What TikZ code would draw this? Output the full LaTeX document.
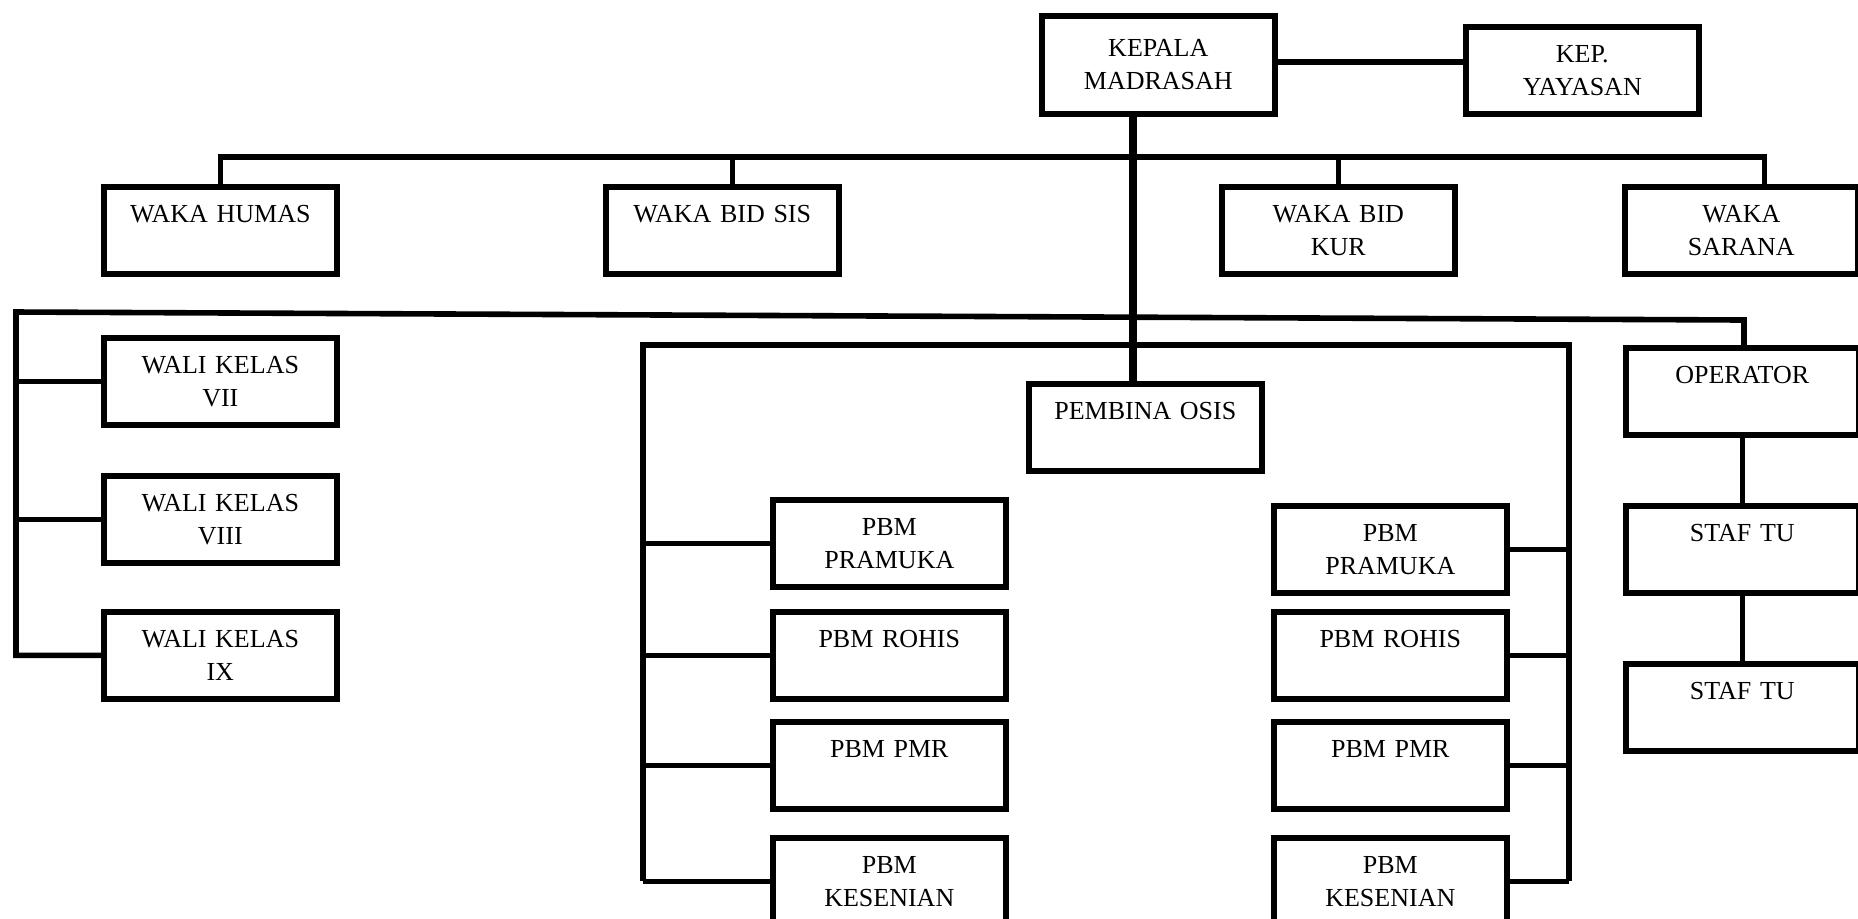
\documentclass[tikz,border=0pt]{standalone}
\usepackage{fontspec}
\setmainfont{Liberation Serif}
\usepackage{tikz}

\begin{document}
\begin{tikzpicture}[x=0.5pt, y=-0.5pt, line width=2.8pt,
  unit/.style={draw, anchor=north west, minimum width=116.5pt,
               minimum height=43.5pt, text width=110pt, align=center,
               inner sep=0pt, font=\fontsize{13}{16.5}\selectfont},
  trunk/.style={line width=4pt}]

  \useasboundingbox (0,0) rectangle (1858,918);

  % -- the head and the foundation ------------------------------------------
  \node[unit, minimum height=49pt] (kepala) at (1039,13) {KEPALA\\MADRASAH};
  \node[unit] (yayasan) at (1463,24) {KEP.\\YAYASAN};
  \draw ([yshift=1.5pt]kepala.east) -- ([yshift=1.5pt]kepala.east -| yayasan.west);

  % -- the four deputies hang from one bar -----------------------------------
  \node[unit] (humas)  at (101,184)  {WAKA HUMAS\\~};
  \node[unit] (bidsis) at (603,184)  {WAKA BID SIS\\~};
  \node[unit] (bidkur) at (1219,184) {WAKA BID\\KUR};
  \node[unit] (sarana) at (1622,184) {WAKA\\SARANA};
  \coordinate (bus) at (0,157);
  \draw (humas.north) -- (humas.north |- bus) -| ([xshift=11.5pt]sarana.north);
  \draw ([xshift=5pt]bidsis.north) -- ([xshift=5pt]bidsis.north |- bus);
  \draw (bidkur.north) -- (bidkur.north |- bus);

  % -- class teachers on the left, office on the right ------------------------
  \node[unit] (wali7) at (101,335) {WALI KELAS\\VII};
  \node[unit] (wali8) at (101,473) {WALI KELAS\\VIII};
  \node[unit] (wali9) at (101,609) {WALI KELAS\\IX};
  \node[unit] (op)    at (1623,345) {OPERATOR\\~};
  \node[unit] (staf1) at (1623,503) {STAF TU\\~};
  \node[unit] (staf2) at (1623,661) {STAF TU\\~};
  \coordinate (lw) at (16,312);
  \coordinate (le) at (1744,320);
  \draw (wali9.west) -| (lw) -- (le) -- (le |- op.north);
  \foreach \w in {wali7, wali8}{
    \draw (\w.west) -- (\w.west -| lw);}
  \draw (op.south) -- (staf1.north);
  \draw (staf1.south) -- (staf2.north);

  % -- OSIS and the two rows of extracurricular leaders ----------------------
  \node[unit] (pembina) at (1026,381) {PEMBINA OSIS\\~};
  \node[unit] (pramL) at (770,497)  {PBM\\PRAMUKA};
  \node[unit] (rohisL) at (770,609) {PBM ROHIS\\~};
  \node[unit] (pmrL) at (770,719)   {PBM PMR\\~};
  \node[unit] (kesL) at (770,835)   {PBM\\KESENIAN};
  \node[unit] (pramR) at (1271,503) {PBM\\PRAMUKA};
  \node[unit] (rohisR) at (1271,609) {PBM ROHIS\\~};
  \node[unit] (pmrR) at (1271,719)  {PBM PMR\\~};
  \node[unit] (kesR) at (1271,835)  {PBM\\KESENIAN};
  \coordinate (pw) at (643,345);
  \coordinate (pe) at (1569,345);
  \draw (kesL.west -| pw) -- (pw) -- (pe) -- (pe |- kesR.east);
  \foreach \p in {pramL, rohisL, pmrL, kesL}{
    \draw (\p.west) -- (\p.west -| pw);}
  \foreach \p in {pramR, rohisR, pmrR, kesR}{
    \draw (\p.east) -- (\p.east -| pe);}

  % -- the trunk runs straight down through both bars -------------------------
  \coordinate (tk) at (1133,0);
  \draw[trunk] (kepala.south -| tk) -- (pembina.north -| tk);

\end{tikzpicture}
\end{document}
